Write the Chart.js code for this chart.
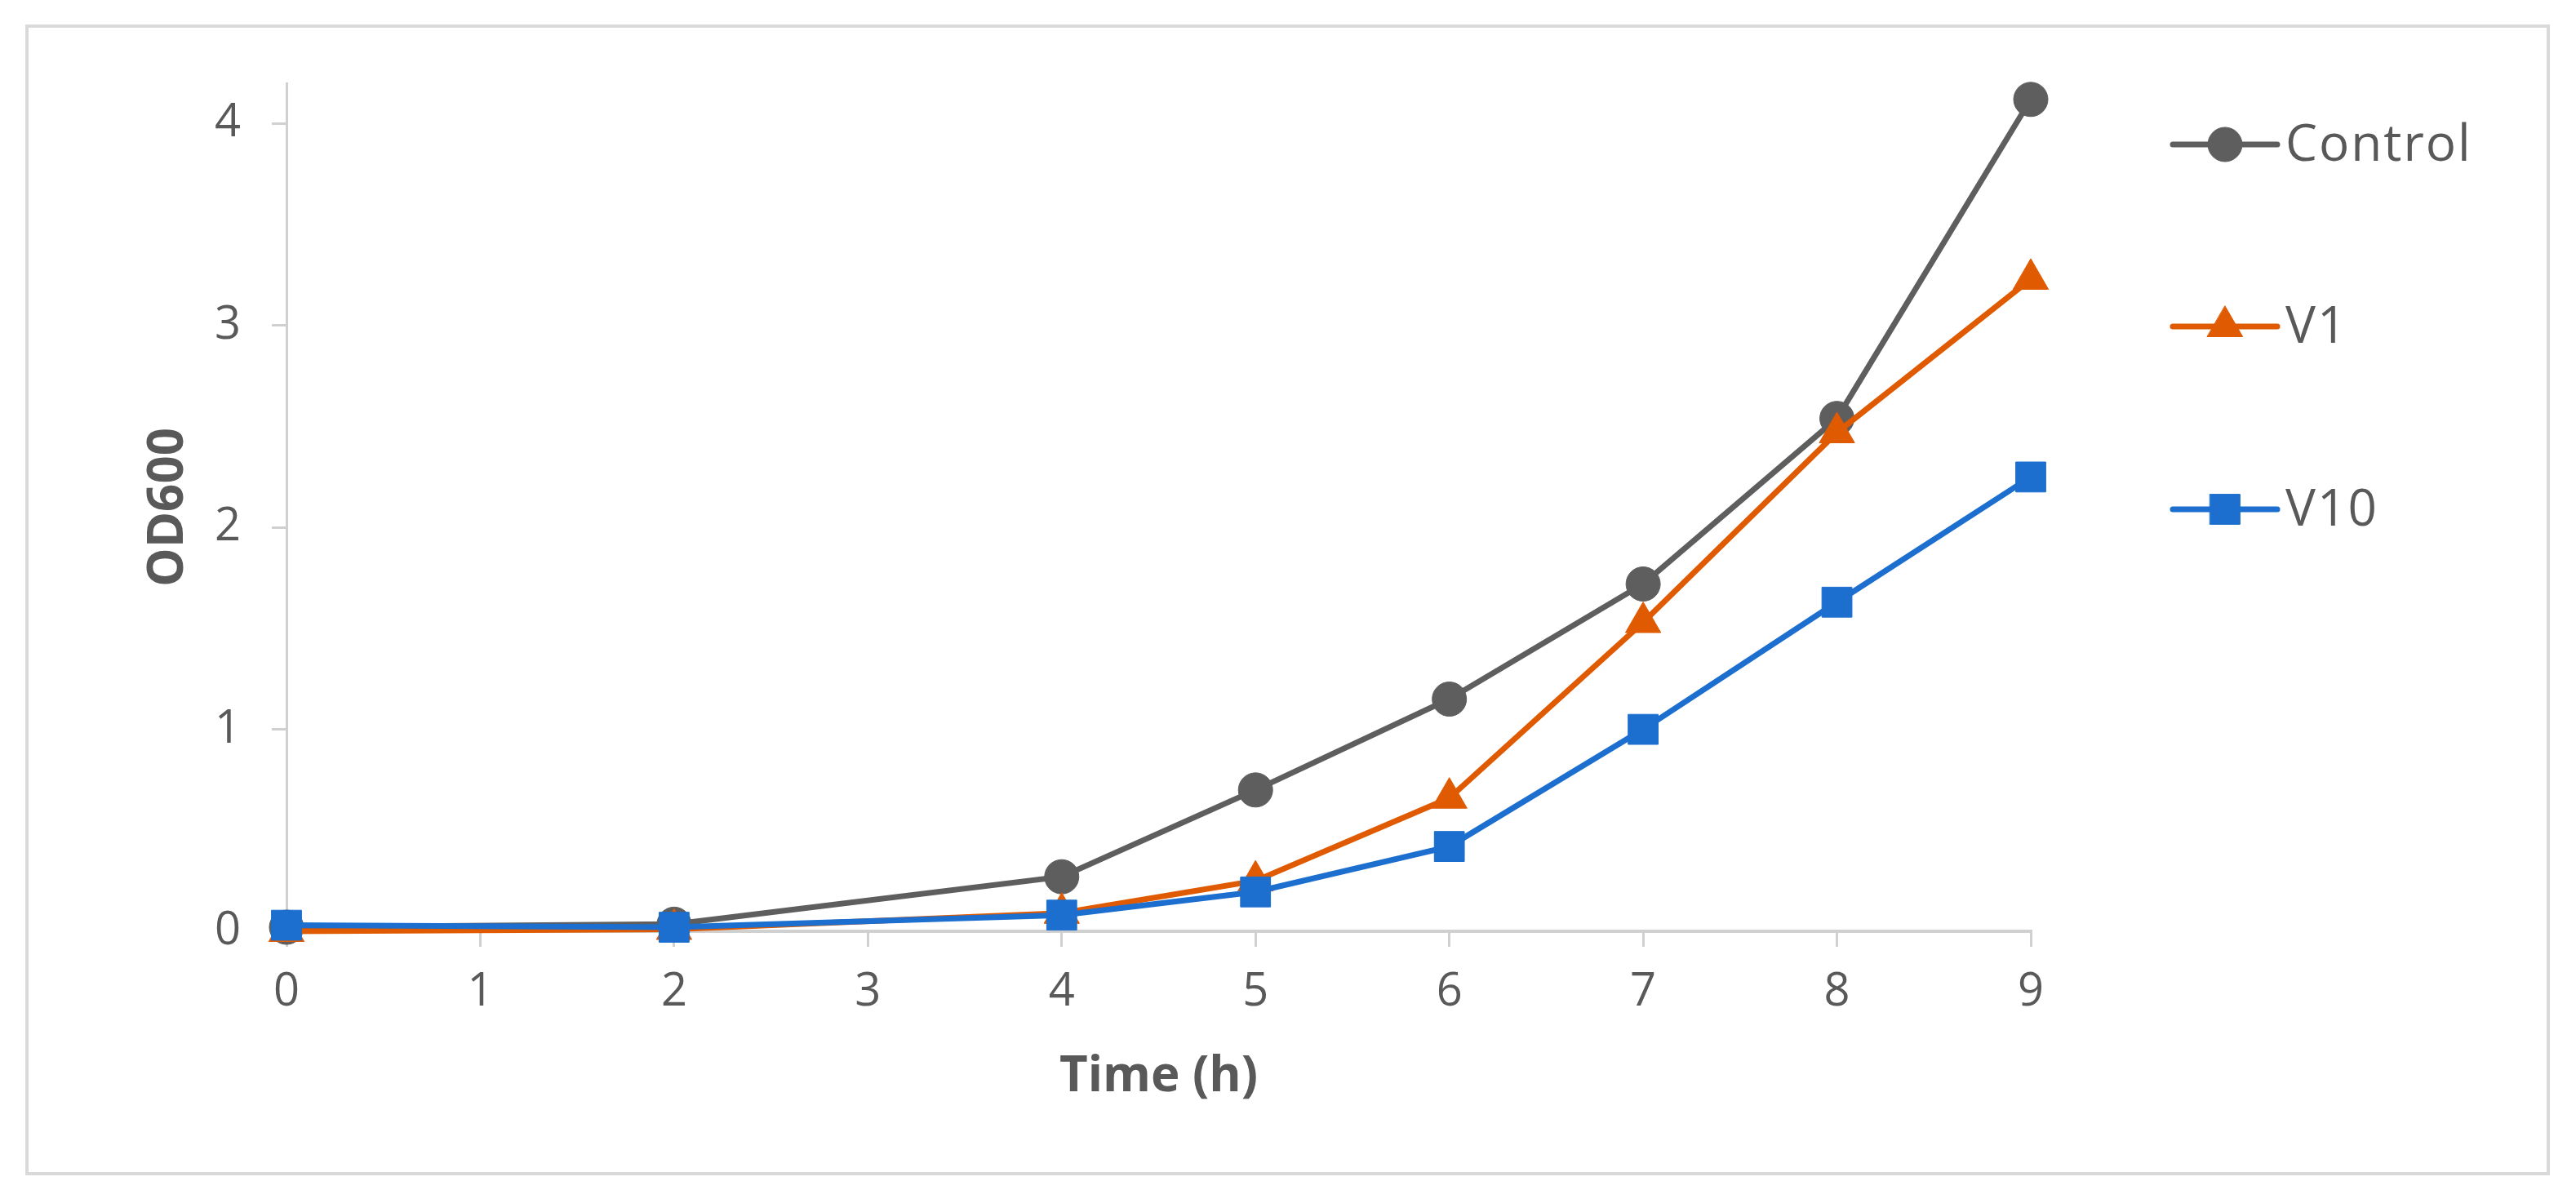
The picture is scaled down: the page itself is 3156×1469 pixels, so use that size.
<!DOCTYPE html>
<html>
<head>
<meta charset="utf-8">
<script src="https://cdn.jsdelivr.net/npm/chart.js@4.4.1/dist/chart.umd.min.js"></script>
<style>
  html, body { margin: 0; padding: 0; background: #fff; }
  #chart { display: block; }
</style>
</head>
<body>
<canvas id="chart" width="3156" height="1469" style="width:3156px;height:1469px"></canvas>
<script>
const times = [0, 2, 4, 5, 6, 7, 8, 9];
const seriesNames = ['Control', 'V1', 'V10'];
const controlOD = [0.02, 0.035, 0.27, 0.70, 1.15, 1.72, 2.54, 4.12];
const v1OD = [0.0, 0.01, 0.09, 0.25, 0.66, 1.53, 2.47, 3.23];
const v10OD = [0.03, 0.02, 0.08, 0.195, 0.42, 1.00, 1.63, 2.25];
const yTicks = [0, 1, 2, 3, 4];

const colors = ['#5e5e5e', '#df5a00', '#1c6fcf'];
const markers = ['circle', 'triangle', 'rect'];
const markerSizes = [21, 25, 26];

Chart.defaults.font.family = "'Open Sans', sans-serif";
Chart.defaults.color = '#595959';

function toPoints(values) {
    return values.map((v, i) => ({ x: times[i], y: v }));
}

const seriesValues = [controlOD, v1OD, v10OD];

const datasets = seriesNames.map((name, i) => ({
    label: name,
    data: toPoints(seriesValues[i]),
    borderColor: colors[i],
    backgroundColor: colors[i],
    borderWidth: 7,
    pointStyle: markers[i],
    pointRadius: markerSizes[i],
    pointBorderWidth: 1,
    pointBorderColor: colors[i],
    pointBackgroundColor: colors[i],
    tension: 0,
    order: seriesNames.length - i,
    clip: false,
}));

// frame around the whole figure
const framePlugin = {
    id: 'frame',
    beforeDraw(chart) {
        const c = chart.ctx;
        c.save();
        c.strokeStyle = '#d9d9d9';
        c.lineWidth = 4;
        c.strokeRect(33, 32, 3089, 1406);
        c.restore();
    }
};

// Excel-style legend: line through marker, entries spaced down the right side
const legendPlugin = {
    id: 'sideLegend',
    afterDraw(chart) {
        const c = chart.ctx;
        const x0 = 2662, x1 = 2790, textX = 2800;
        const ys = [177, 400, 624];
        chart.data.datasets.forEach((ds, i) => {
            const y = ys[i];
            c.save();
            c.strokeStyle = ds.borderColor;
            c.lineWidth = 7;
            c.lineCap = 'round';
            c.beginPath();
            c.moveTo(x0, y);
            c.lineTo(x1, y);
            c.stroke();
            c.fillStyle = ds.backgroundColor;
            c.strokeStyle = ds.borderColor;
            c.lineWidth = 1;
            Chart.helpers.drawPoint(c, { pointStyle: ds.pointStyle, radius: ds.pointRadius, rotation: 0, borderWidth: 1 }, (x0 + x1) / 2, y);
            c.fillStyle = '#595959';
            c.font = "62px 'Open Sans', sans-serif";
            c.textBaseline = 'middle';
            c.textAlign = 'left';
            if ('letterSpacing' in c) c.letterSpacing = '2px';
            c.fillText(ds.label, textX, y + 2);
            c.restore();
        });
    }
};

new Chart(document.getElementById('chart'), {
    type: 'line',
    data: { datasets },
    options: {
        responsive: false,
        devicePixelRatio: 1,
        animation: false,
        layout: { padding: { left: 0, top: 102, right: 668, bottom: 0 } },
        plugins: {
            legend: { display: false },
            tooltip: { enabled: false },
        },
        scales: {
            x: {
                type: 'linear',
                min: 0,
                max: 9,
                ticks: { stepSize: 1, padding: 22, font: { size: 56 }, color: '#595959' },
                grid: { drawOnChartArea: false, drawTicks: true, tickLength: 19, color: '#d0d0d0', lineWidth: 3 },
                border: { display: true, color: '#d0d0d0', width: 4 },
                title: { display: true, text: 'Time (h)', font: { size: 60, weight: 'bold' }, color: '#595959', padding: { top: 0, bottom: 113 } },
                afterFit(scale) { scale.height = 328; },
            },
            y: {
                min: 0,
                max: 4.2,
                ticks: { stepSize: 1, padding: 38, font: { size: 56 }, color: '#595959' },
                afterBuildTicks(scale) {
                    scale.ticks = yTicks.map(v => ({ value: v }));
                },
                grid: { drawOnChartArea: false, drawTicks: true, tickLength: 18, color: '#d0d0d0', lineWidth: 3 },
                border: { display: true, color: '#d0d0d0', width: 3 },
                title: { display: true, text: 'OD600', font: { size: 60, weight: 'bold' }, color: '#595959', padding: { top: 171, bottom: 0 } },
                afterFit(scale) { scale.width = 351; },
            },
        },
    },
    plugins: [framePlugin, legendPlugin],
});
</script>
</body>
</html>
